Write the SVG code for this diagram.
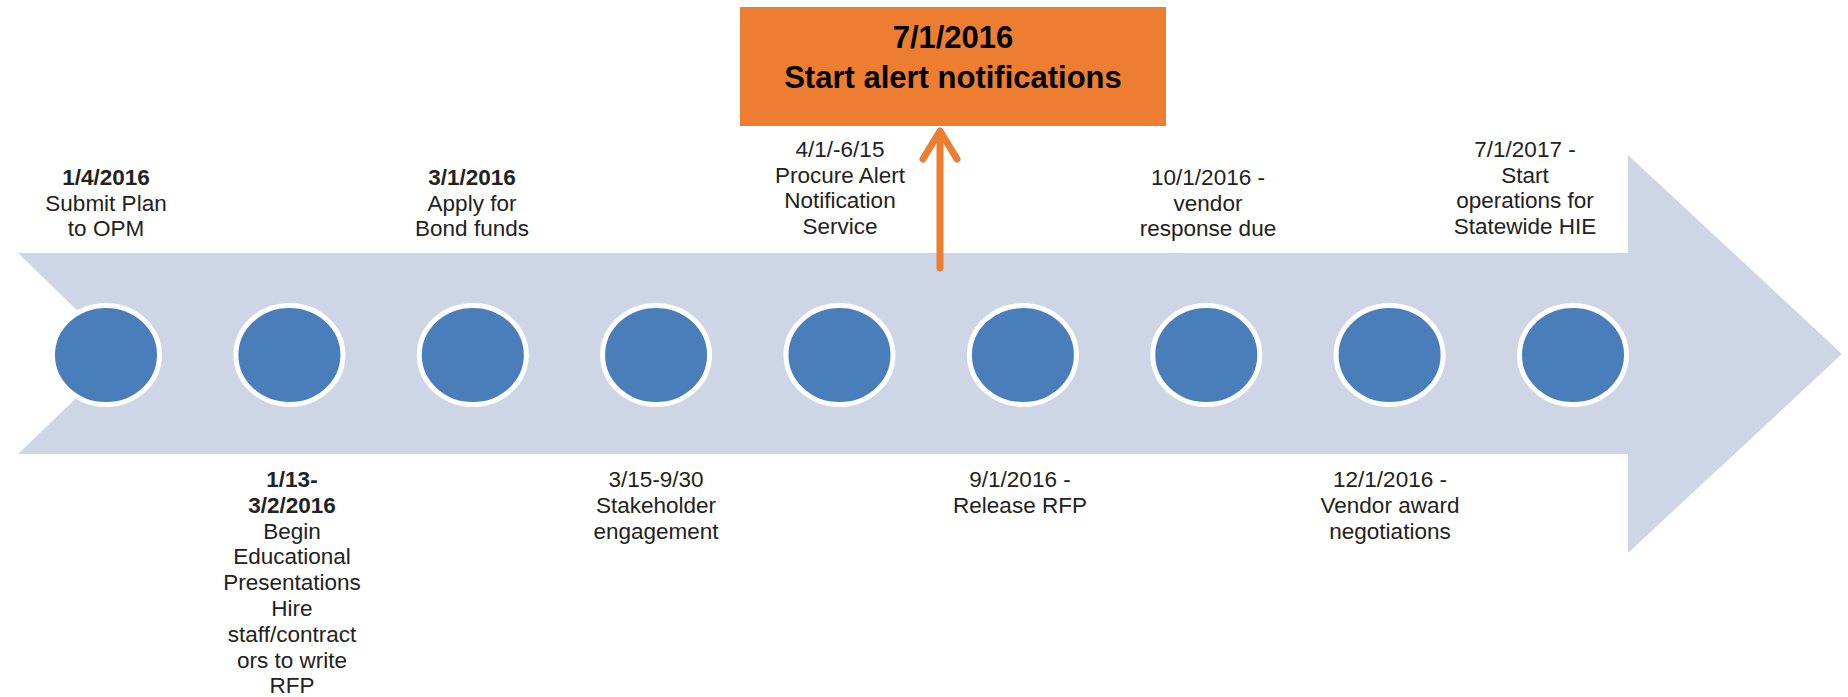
<svg xmlns="http://www.w3.org/2000/svg" width="1848" height="697" viewBox="0 0 1848 697">
<style>
.lbl{font-family:"Liberation Sans",Arial,sans-serif;font-size:22.5px;fill:#222222;text-anchor:middle}
.b{font-weight:bold}
.dot{fill:#4A7EBB;stroke:#FFFFFF;stroke-width:5}
.hl{font-family:"Liberation Sans",Arial,sans-serif;font-size:31px;font-weight:bold;fill:#000;text-anchor:middle}
</style>
<rect width="1848" height="697" fill="#FFFFFF"/>
<g id="timeline-band">
<path d="M18,253 L1628,253 L1628,155 L1842,354 L1628,553 L1628,454 L18,454 L122,354 Z" fill="#CED6E6"/>
</g>
<g id="connectors">
<line x1="940" y1="268" x2="940" y2="133" stroke="#ED7D31" stroke-width="7" stroke-linecap="round"/>
<polyline points="923,159 940,131 957,159" fill="none" stroke="#ED7D31" stroke-width="7" stroke-linecap="round" stroke-linejoin="round"/>
</g>
<g id="milestone-box">
<rect x="740" y="7" width="426" height="119" fill="#ED7D31"/>
<text class="hl" x="953" y="48">7/1/2016</text>
<text class="hl" x="953" y="88">Start alert notifications</text>
</g>
<g id="node1">
<ellipse class="dot" cx="106" cy="355" rx="53.5" ry="49.5"/>
<text class="lbl" x="106" y="185"><tspan class="b">1/4/2016</tspan><tspan x="106" dy="25.6">Submit Plan</tspan><tspan x="106" dy="25.6">to OPM</tspan></text>
</g>
<g id="node2">
<ellipse class="dot" cx="289.4" cy="355" rx="53.5" ry="49.5"/>
<text class="lbl" x="292" y="487"><tspan class="b">1/13-</tspan><tspan class="b" x="292" dy="25.8">3/2/2016</tspan><tspan x="292" dy="25.8">Begin</tspan><tspan x="292" dy="25.8">Educational</tspan><tspan x="292" dy="25.8">Presentations</tspan><tspan x="292" dy="25.8">Hire</tspan><tspan x="292" dy="25.8">staff/contract</tspan><tspan x="292" dy="25.8">ors to write</tspan><tspan x="292" dy="25.8">RFP</tspan></text>
</g>
<g id="node3">
<ellipse class="dot" cx="472.8" cy="355" rx="53.5" ry="49.5"/>
<text class="lbl" x="472" y="185"><tspan class="b">3/1/2016</tspan><tspan x="472" dy="25.6">Apply for</tspan><tspan x="472" dy="25.6">Bond funds</tspan></text>
</g>
<g id="node4">
<ellipse class="dot" cx="656.1" cy="355" rx="53.5" ry="49.5"/>
<text class="lbl" x="656" y="487"><tspan>3/15-9/30</tspan><tspan x="656" dy="25.8">Stakeholder</tspan><tspan x="656" dy="25.8">engagement</tspan></text>
</g>
<g id="node5">
<ellipse class="dot" cx="839.5" cy="355" rx="53.5" ry="49.5"/>
<text class="lbl" x="840" y="157"><tspan>4/1/-6/15</tspan><tspan x="840" dy="25.6">Procure Alert</tspan><tspan x="840" dy="25.6">Notification</tspan><tspan x="840" dy="25.6">Service</tspan></text>
</g>
<g id="node6">
<ellipse class="dot" cx="1022.9" cy="355" rx="53.5" ry="49.5"/>
<text class="lbl" x="1020" y="487"><tspan>9/1/2016 -</tspan><tspan x="1020" dy="25.8">Release RFP</tspan></text>
</g>
<g id="node7">
<ellipse class="dot" cx="1206.3" cy="355" rx="53.5" ry="49.5"/>
<text class="lbl" x="1208" y="185"><tspan>10/1/2016 -</tspan><tspan x="1208" dy="25.6">vendor</tspan><tspan x="1208" dy="25.6">response due</tspan></text>
</g>
<g id="node8">
<ellipse class="dot" cx="1389.6" cy="355" rx="53.5" ry="49.5"/>
<text class="lbl" x="1390" y="487"><tspan>12/1/2016 -</tspan><tspan x="1390" dy="25.8">Vendor award</tspan><tspan x="1390" dy="25.8">negotiations</tspan></text>
</g>
<g id="node9">
<ellipse class="dot" cx="1573" cy="355" rx="53.5" ry="49.5"/>
<text class="lbl" x="1525" y="157"><tspan>7/1/2017 -</tspan><tspan x="1525" dy="25.6">Start</tspan><tspan x="1525" dy="25.6">operations for</tspan><tspan x="1525" dy="25.6">Statewide HIE</tspan></text>
</g>
</svg>
